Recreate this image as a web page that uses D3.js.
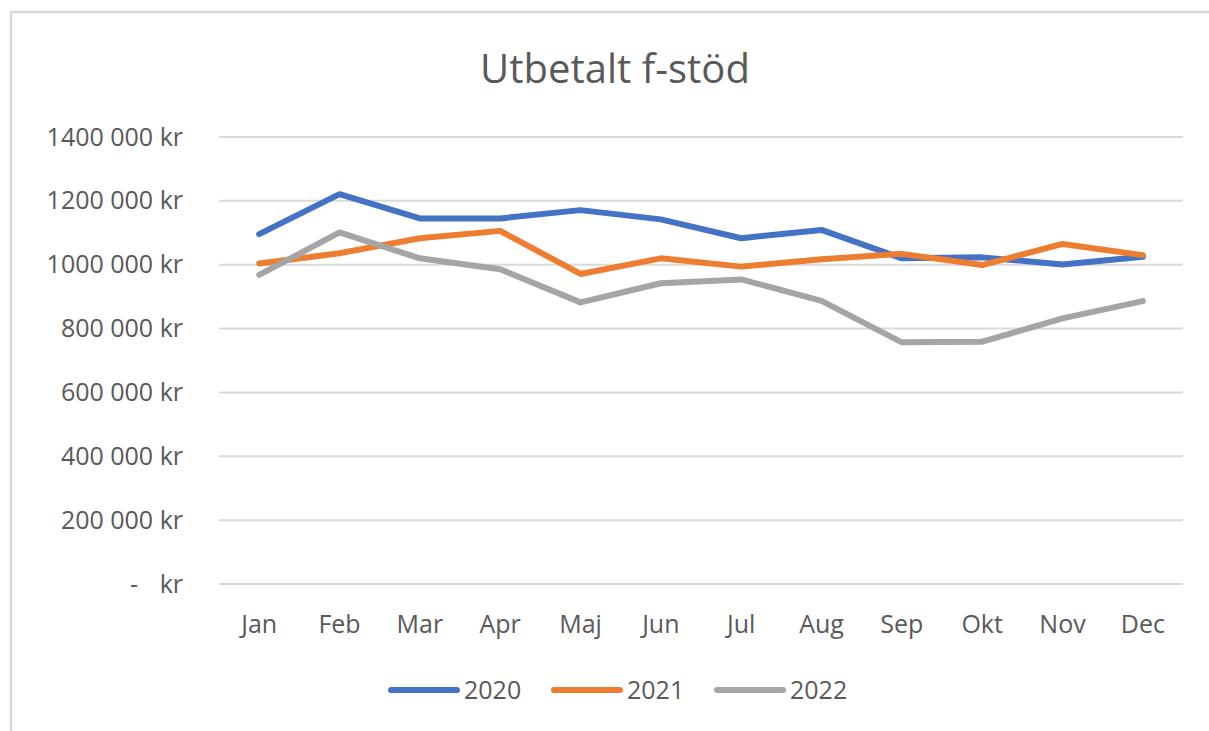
<!DOCTYPE html>
<html>
<head>
<meta charset="utf-8">
<script src="https://d3js.org/d3.v7.min.js"></script>
<style>
  body { margin: 0; background: #fff; }
  text { font-family: "Open Sans", sans-serif; fill: #595959; }
</style>
</head>
<body>
<div id="svg"></div>
<script>
// data
var months = ["Jan","Feb","Mar","Apr","Maj","Jun","Jul","Aug","Sep","Okt","Nov","Dec"]
var years = ["2020","2021","2022"]
var v2020 = [1096000,1221000,1145000,1145000,1171000,1142000,1083000,1109000,1020000,1023000,1001000,1025000]
var v2021 = [1004000,1036000,1083000,1106000,971000,1020000,994000,1017000,1034000,999000,1065000,1030000]
var v2022 = [968000,1101000,1020000,986000,882000,942000,954000,887000,757000,759000,832000,886000]
var yTicks = [0,200000,400000,600000,800000,1000000,1200000,1400000]
var color = ["#4472C4","#ED7D31","#A5A5A5"]

var series = [v2020, v2021, v2022]

var W = 1209, H = 731
var margin = {top: 137, right: 26, bottom: 147, left: 219},
    width = W - margin.left - margin.right,
    height = H - margin.top - margin.bottom;

var root = d3.select("#svg")
    .append("svg")
    .attr("width", W)
    .attr("height", H)

// outer chart frame (bottom/right are off the picture)
root.append("rect")
    .attr("x", 11)
    .attr("y", 12)
    .attr("width", 1400)
    .attr("height", 900)
    .style("fill", "none")
    .style("stroke", "#d9d9d9")
    .style("stroke-width", 2.5)

var svg = root.append("g")
    .attr("transform", "translate(" + margin.left + "," + margin.top + ")");

// title
root.append("text")
    .attr("x", 615)
    .attr("y", 83)
    .attr("text-anchor", "middle")
    .style("font-size", "40px")
    .text("Utbetalt f-stöd");

var x = d3.scaleBand()
    .domain(months)
    .range([0, width])

var y = d3.scaleLinear()
    .domain([0, 1400000])
    .range([height, 0])

// gridlines
svg.append("g")
    .selectAll("grid")
    .data(yTicks)
    .enter()
    .append("line")
    .attr("x1", 0)
    .attr("x2", width)
    .attr("y1", function(d) { return y(d); })
    .attr("y2", function(d) { return y(d); })
    .style("stroke", "#d9d9d9")
    .style("stroke-width", 2)

// Y axis labels
var yAxis = svg.append("g")
    .call(d3.axisLeft(y)
        .tickValues(yTicks)
        .tickSize(0)
        .tickPadding(36)
        .tickFormat(function(d) { return d === 0 ? "kr" : (d / 1000) + " 000 kr"; }))
yAxis.select(".domain").remove()
yAxis.selectAll("text")
    .style("font-size", "25px")
    .style("font-family", "Open Sans, sans-serif")
    .attr("fill", "#595959")
yAxis.selectAll(".tick")
    .filter(function(d) { return d === 0; })
    .append("text")
    .attr("x", -85)
    .attr("dy", "0.32em")
    .attr("text-anchor", "middle")
    .attr("fill", "#595959")
    .style("font-size", "25px")
    .text("-")

// X axis labels
var xAxis = svg.append("g")
    .attr("transform", "translate(0," + height + ")")
    .call(d3.axisBottom(x).tickSize(0).tickPadding(31))
xAxis.select(".domain").remove()
xAxis.selectAll("text")
    .style("font-size", "25px")
    .style("font-family", "Open Sans, sans-serif")
    .attr("fill", "#595959")

// lines
var line = d3.line()
    .x(function(d, i) { return x(months[i]) + x.bandwidth() / 2; })
    .y(function(d) { return y(d); })

svg.selectAll("myPath")
    .data(series)
    .enter()
    .append("path")
    .attr("d", line)
    .style("fill", "none")
    .style("stroke", function(d, i) { return color[i]; })
    .style("stroke-width", 6)
    .style("stroke-linejoin", "round")
    .style("stroke-linecap", "round")

// legend
var legend = root.append("g")
    .attr("transform", "translate(391,690)")
var item = legend.selectAll("item")
    .data(years)
    .enter()
    .append("g")
    .attr("transform", function(d, i) { return "translate(" + (i * 163) + ",0)"; })
item.append("line")
    .attr("x1", 0)
    .attr("x2", 66)
    .style("stroke", function(d, i) { return color[i]; })
    .style("stroke-width", 6)
    .style("stroke-linecap", "round")
item.append("text")
    .attr("x", 73)
    .attr("y", 9)
    .style("font-size", "25px")
    .text(function(d) { return d; })
</script>
</body>
</html>
